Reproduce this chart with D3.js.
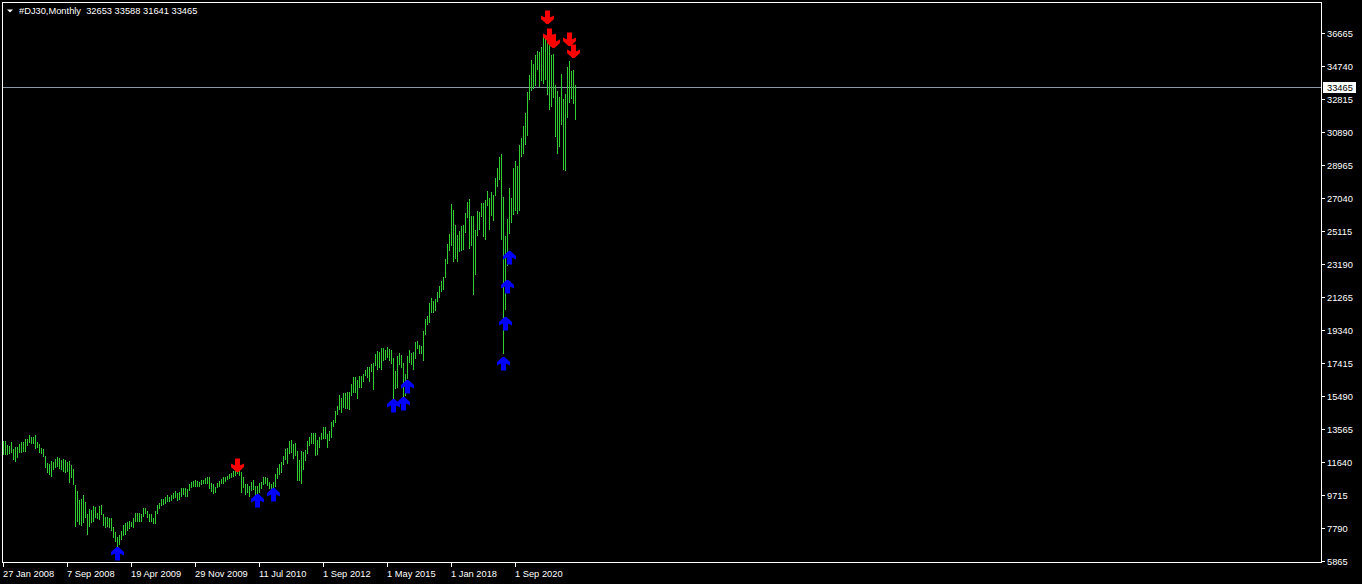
<!DOCTYPE html>
<html><head><meta charset="utf-8">
<script src="https://cdn.jsdelivr.net/npm/d3@7"></script>
<style>html,body{margin:0;padding:0;background:#000;overflow:hidden}</style>
</head><body>
<svg id="c" width="1362" height="584"></svg>
<script>
// Weekly bars 27 Jan 2008 .. Aug 2010, then monthly bars Sep 2010 .. Mar 2023
const highs = [
12850,12850,12610,12555,12770,12380,12480,12515,12670,12770,
12770,12945,12965,13195,13100,13100,13195,12770,12670,12460,
12380,11970,11545,11485,11700,11640,11800,11895,11835,11720,
11800,11740,11640,11700,11450,11215,10280,9950,9405,9465,
9700,9310,8590,8880,8825,9075,8980,8630,9075,9115,
8590,8395,8435,8340,8340,7810,7560,7230,7365,7615,
7950,8045,8140,8200,8140,8335,8665,8630,8665,8590,
8920,8920,8765,8590,8590,8335,8765,9115,9210,9445,
9445,9560,9700,9600,9700,9835,9930,9795,9890,10086,
10125,10086,10047,10319,10475,10533,10572,10533,10475,10572,
10572,10669,10728,10767,10378,10319,10183,10378,10514,10611,
10728,10767,10825,10903,10961,11117,11194,11253,11194,11058,
10767,10339,10339,10222,10475,10572,10222,10222,10417,10475,
10728,10767,10669,10475,10339,10436,
10930,11250,11500,11630,12000,12400,12420,12870,12880,12650,
12760,12280,11740,12290,12220,12300,12841,13055,13289,13297,
13338,12898,13109,13331,13653,13662,13233,13430,13969,14100,
14586,14888,15542,15340,15634,15658,15709,15721,16174,16589,
16588,16398,16631,16632,16736,16979,17151,17153,17350,17395,
17894,18103,18064,18244,18288,18175,18351,18217,18137,17665,
16933,17799,17977,17888,17405,16752,17790,18168,18003,18016,
18622,18668,18450,18399,19250,19988,20126,20890,21169,21040,
21112,21530,21910,22190,22430,23475,24330,24900,26680,26306,
25449,24858,25087,25403,25462,26168,26770,26951,26000,26000,
25150,26260,26200,26720,26720,26930,27420,27000,27350,27200,
28170,28750,29390,29580,27100,24790,25770,27630,27000,28800,
29170,28900,30140,30550,31250,32000,33200,34200,35050,34830,
35350,35600,35530,35840,36500,36550,36880,35960,35370,35450,
33600,33250,32920,34260,32770,33100,34640,35000,34420,34460,33588
];
const lows = [
12110,12110,12110,12165,12225,11800,11700,11935,12185,12185,
12265,12285,12615,12770,12710,12710,12460,12480,12185,12130,
11990,11310,11060,10900,10825,11195,11310,11410,11255,11230,
11100,11060,11120,10475,10770,10340,7890,8180,8005,7950,
8140,8395,7420,7890,8140,8200,8395,8340,8300,8590,
7950,7810,7890,7810,7655,7265,7035,6720,6840,7130,
7365,7425,7655,7755,7890,7850,8200,8200,8200,8200,
8475,8630,8435,8200,8200,8045,8045,8665,8920,9115,
9175,9210,9365,9365,9405,9505,9560,9405,9445,9639,
9755,9639,9639,9989,10183,10222,10222,10222,10242,10339,
10378,10378,10378,10086,9950,9833,9892,10144,10242,10378,
10417,10533,10611,10669,10728,10805,10864,10961,10864,9892,
10183,9755,9892,9639,9989,10047,9697,9755,9892,10086,
10339,10378,10280,10086,10086,10183,
10200,10680,10925,11040,11520,11820,11560,12120,12200,11840,
12035,10550,10560,10400,11200,11735,12150,12623,12757,12710,
12035,12101,12492,12977,12995,13026,12471,12883,13104,13700,
13937,14434,14687,14551,14810,14760,14777,14719,15559,15703,
15699,15340,16015,16015,16334,16692,16563,16333,16902,15855,
17280,17067,17136,17037,17585,17611,17722,17575,17399,15370,
15942,16013,17359,17138,15450,15503,16545,17484,17331,17063,
17713,18289,17992,17959,17600,19100,19650,19780,20380,20350,
20500,20990,21250,21620,21700,22405,23210,24000,24300,23360,
23509,23345,23908,23997,24075,25044,25918,24122,24268,21450,
22600,24870,25230,25950,24830,24620,26600,25200,26050,25720,
27180,27700,28140,24650,18000,20550,23100,25000,25650,26100,
26300,26150,26300,29450,29650,30200,30700,32810,33300,33450,
33600,34550,33530,33900,33750,33950,33090,32210,32400,32900,
30620,29640,30080,31350,28730,28640,31750,32650,32870,32570,31641
];
const timeLabels = ["27 Jan 2008","7 Sep 2008","19 Apr 2009","29 Nov 2009","11 Jul 2010","1 Sep 2012","1 May 2015","1 Jan 2018","1 Sep 2020"];
const timeLabelIdx = [0,32,64,96,128,160,192,224,256];
const priceTicks = [5865,7790,9715,11640,13565,15490,17415,19340,21265,23190,25115,27040,28965,30890,32815,34740,36665];
const upArrowIdx = [57,127,135,195,200,202,250,251,252,253];
const upArrowPrice = [6665,9738,10123,15280,15432,16406,17730,20098,22239,23948];
const downArrowIdx = [117,272,273,275,283,285];
const downArrowPrice = [11057,37155,36105,35790,35907,35172];
const lastPrice = 33465;
const titleText = "#DJ30,Monthly  32653 33588 31641 33465";

const FONT = "'Liberation Sans', Arial, sans-serif";
const FS = "9.3px";
const svg = d3.select("#c");
svg.append("rect").attr("width",1362).attr("height",584).attr("fill","#000");

const N = highs.length;
const x = d3.scaleLinear().domain([0, N-1]).range([3, 3 + 2*(N-1)]);
const y = d3.scaleLinear().domain([5865, 36665]).range([560.7, 32.7]);

// bid line
const ly = Math.floor(y(lastPrice)) + 0.5;
svg.append("line").attr("x1",2).attr("x2",1321).attr("y1",ly).attr("y2",ly)
  .attr("stroke","#8a97a4").attr("stroke-width",1);

// bars (high-low)
svg.append("g").selectAll("line").data(d3.range(N)).join("line")
  .attr("x1", i => x(i)+0.5).attr("x2", i => x(i)+0.5)
  .attr("y1", i => Math.round(y(highs[i]))).attr("y2", i => Math.round(y(lows[i]))+1)
  .attr("stroke","#32cd32").attr("stroke-width",1).attr("shape-rendering","crispEdges");

// arrows
const upPath = "M-1,0 H1 L6.5,5 V8.5 L2.5,6.5 V13.5 H-2.5 V6.5 L-6.5,8.5 V5 Z";
const downPath = "M-1,0 H1 L6.5,-5 V-8.5 L2.5,-6.5 V-13.5 H-2.5 V-6.5 L-6.5,-8.5 V-5 Z";
svg.append("g").selectAll("path").data(upArrowIdx.map((d,k)=>[d,upArrowPrice[k]])).join("path")
  .attr("d", upPath).attr("fill","#0000ff")
  .attr("transform", d => `translate(${x(d[0])+0.5},${Math.round(y(d[1]))})`);
svg.append("g").selectAll("path").data(downArrowIdx.map((d,k)=>[d,downArrowPrice[k]])).join("path")
  .attr("d", downPath).attr("fill","#ff0000")
  .attr("transform", d => `translate(${x(d[0])+0.5},${Math.round(y(d[1]))})`);

// frame
svg.append("rect").attr("x",2.5).attr("y",2.5).attr("width",1319).attr("height",560)
  .attr("fill","none").attr("stroke","#fff").attr("stroke-width",1);

// price axis
const pa = svg.append("g");
priceTicks.forEach(v => {
  const ty = Math.round(y(v)) + 0.5;
  pa.append("line").attr("x1",1322).attr("x2",1325).attr("y1",ty).attr("y2",ty).attr("stroke","#fff");
  pa.append("text").attr("x",1327).attr("y",ty+3.5).text(v)
    .attr("fill","#fff").attr("font-family",FONT).attr("font-size",FS);
});
// last price label
const lby = Math.floor(y(lastPrice));
pa.append("rect").attr("x",1323).attr("y",lby-5).attr("width",33).attr("height",11).attr("fill","#fff");
pa.append("text").attr("x",1327).attr("y",lby+4).text(lastPrice)
  .attr("fill","#000").attr("font-family",FONT).attr("font-size",FS);

// time axis
const ta = svg.append("g");
timeLabels.forEach((t,k) => {
  const tx = x(timeLabelIdx[k]) + 0.5;
  ta.append("line").attr("x1",tx).attr("x2",tx).attr("y1",563).attr("y2",567).attr("stroke","#fff");
  ta.append("text").attr("x",x(timeLabelIdx[k])).attr("y",576.5).text(t)
    .attr("fill","#fff").attr("font-family",FONT).attr("font-size",FS);
});

// title
svg.append("path").attr("d","M7,9.5 L13,9.5 L10,12.5 Z").attr("fill","#fff");
svg.append("text").attr("x",19).attr("y",13.5).text(titleText).attr("xml:space","preserve")
  .style("white-space","pre").attr("fill","#fff").attr("font-family",FONT).attr("font-size",FS);
</script>
</body></html>
